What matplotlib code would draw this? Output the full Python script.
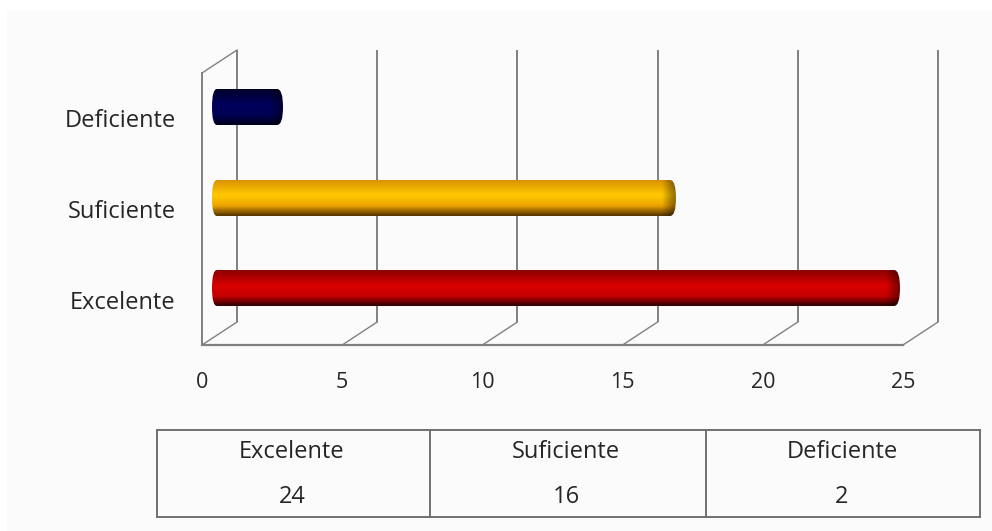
import numpy as np
import matplotlib
matplotlib.use("Agg")
import matplotlib.pyplot as plt
from matplotlib.path import Path
from matplotlib.patches import PathPatch, Rectangle
from matplotlib.colors import LinearSegmentedColormap

categories = ["Excelente", "Suficiente", "Deficiente"]
values = [24, 16, 2]
x_ticks = [0, 5, 10, 15, 20, 25]
gradients = [
    ["#8c0000", "#d80000", "#c40000", "#2c0000"],
    ["#d89000", "#ffc800", "#eca400", "#5a3800"],
    ["#000028", "#00005c", "#000054", "#00001c"],
]

W, H = 992, 531
plt.rcParams["font.family"] = ["Open Sans", "DejaVu Sans"]
fig = plt.figure(figsize=(W / 100, H / 100), dpi=100, facecolor="white")
fig.add_artist(Rectangle((7 / W, 0), 1 - 7 / W, 1 - 11 / H, transform=fig.transFigure,
                         fc="#fbfbfb", ec="none", zorder=-5))

# Front plane of the 3D box
L, R, T, B = 202, 903, 73, 345
ax = fig.add_axes([L / W, 1 - B / H, (R - L) / W, (B - T) / H])
ax.set_xlim(0, 25)
ax.set_ylim(0, 3)
ax.patch.set_alpha(0)
px = 25 / (R - L)
py = 3 / (B - T)

GRID = "#808080"
depth_x, depth_y = 35 * px, 23 * py
for s in ("top", "right", "bottom", "left"):
    ax.spines[s].set_visible(False)

# Walls: back grid lines, floor diagonals
for v in x_ticks:
    ax.plot([v + depth_x] * 2, [depth_y, 3 + depth_y], color=GRID, lw=1.4,
            clip_on=False, zorder=1, solid_capstyle="butt")
    ax.plot([v, v + depth_x], [0, depth_y], color=GRID, lw=1.0, clip_on=False, zorder=1)
ax.plot([0, 0], [0, 3], color=GRID, lw=1.4, clip_on=False, zorder=1)
ax.plot([0, 25], [0, 0], color=GRID, lw=1.6, clip_on=False, zorder=1)
ax.plot([0, depth_x], [3, 3 + depth_y], color=GRID, lw=1.0, clip_on=False, zorder=1)

# Cylinders
HALF = 18 * py
for i, (v, g) in enumerate(zip(values, gradients)):
    yc = i + 0.5 + 11.5 * py
    x0 = 10 * px
    x1 = v + 25 * px
    bl, br = 5 * px, 6 * px
    path = Path(
        [(x0 + bl, yc - HALF), (x1 - br, yc - HALF), (x1, yc - HALF), (x1, yc),
         (x1, yc + HALF), (x1 - br, yc + HALF), (x0 + bl, yc + HALF),
         (x0, yc + HALF), (x0, yc), (x0, yc - HALF), (x0 + bl, yc - HALF)],
        [Path.MOVETO, Path.LINETO, Path.CURVE3, Path.CURVE3,
         Path.CURVE3, Path.CURVE3, Path.LINETO,
         Path.CURVE3, Path.CURVE3, Path.CURVE3, Path.CURVE3],
    )
    clip = PathPatch(path, transform=ax.transData, fc="none", ec="none", zorder=2)
    ax.add_patch(clip)
    # stops are listed top to bottom; the y axis runs upward
    cmap = LinearSegmentedColormap.from_list(f"g{i}", list(g))
    ny = 64
    nx = int(round((x1 - x0) / px))
    ys = np.linspace(yc + HALF, yc - HALF, ny + 1)
    xs = np.linspace(x0, x1, nx + 1)
    t = np.linspace(0, 1, ny)
    t = np.where(t < 0.5, t * 0.8, 0.4 + (t - 0.5) * 1.2)
    rgb = cmap(t)[:, :3]
    xm = (xs[:-1] + xs[1:]) / 2
    d = (x1 - xm) / px  # distance from the tip in pixels
    shade = np.clip(0.6 + 0.4 * (d - 2) / 12, 0.6, 1.0)
    rgb2 = rgb[:, None, :] * shade[None, :, None]
    m = ax.pcolormesh(xs, ys, rgb2, zorder=2.1, rasterized=True, linewidth=0, antialiased=False)
    m.set_clip_path(clip)

# Axis labels
ax.set_xticks(x_ticks)
ax.set_xticklabels([str(v) for v in x_ticks], fontsize=15.5, color="#262626")
ax.set_yticks([i + 0.5 for i in range(len(categories))])
ax.set_yticklabels(categories, fontsize=17, color="#262626")
ax.tick_params(axis="x", length=0, pad=19.5)
ax.tick_params(axis="y", length=0, pad=19)

# Data table below the chart
col_edges = [157, 430, 706, 980]
col_text = [292, 566, 842]
tab = fig.add_axes([157 / W, 1 - 517 / H, (980 - 157) / W, (517 - 430) / H])
tab.set_xlim(157, 980)
tab.set_ylim(0, 2)
tab.axis("off")
tab.plot([157, 980], [2, 2], color="#707070", lw=1.4, clip_on=False)
tab.plot([157, 980], [0, 0], color="#707070", lw=1.4, clip_on=False)
for x in col_edges:
    tab.plot([x, x], [0, 2], color="#707070", lw=1.4, clip_on=False)
for x, c, v in zip(col_text, categories, values):
    tab.text(x, 1.5, c, ha="center", va="center", fontsize=17, color="#262626")
    tab.text(x, 0.46, str(v), ha="center", va="center", fontsize=17, color="#262626")

fig.savefig("out.png", dpi=100, facecolor=fig.get_facecolor())
